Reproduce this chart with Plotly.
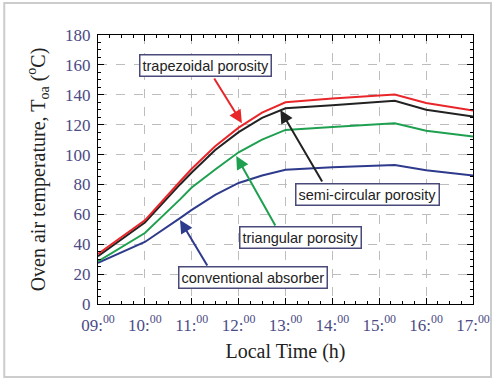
import plotly.graph_objects as go

hours = [9.0, 10.0, 10.75, 11.0, 11.5, 12.0, 12.5, 13.0, 14.0, 15.33, 16.0, 17.0]
trapezoidal = [33.5, 56.0, 82.0, 90.5, 105.5, 118.0, 128.0, 135.0, 137.5, 140.2, 134.5, 129.5]
semicircular = [32.0, 54.5, 80.0, 88.0, 103.0, 115.0, 124.5, 131.0, 133.0, 136.0, 130.0, 125.5]
triangular = [28.5, 47.5, 70.0, 78.0, 90.0, 101.5, 110.0, 116.5, 118.5, 121.0, 116.0, 112.0]
conventional = [27.5, 41.5, 57.5, 63.0, 73.0, 81.0, 86.0, 89.8, 91.5, 93.0, 89.5, 86.0]

tick_hours = [9, 10, 11, 12, 13, 14, 15, 16, 17]
tick_labels = ["09:<sup>00</sup>", "10:<sup>00</sup>", "11:<sup>00</sup>", "12:<sup>00</sup>",
               "13:<sup>00</sup>", "14:<sup>00</sup>", "15:<sup>00</sup>", "16:<sup>00</sup>",
               "17:<sup>00</sup>"]

series = [
    ("conventional absorber", conventional, "#2e3a8c"),
    ("triangular porosity", triangular, "#1fa050"),
    ("semi-circular porosity", semicircular, "#222222"),
    ("trapezoidal porosity", trapezoidal, "#e8262a"),
]

# label box centre, arrow tail, arrow head (data coords)
labels = {
    "trapezoidal porosity": ((11.29, 159.9), (11.46, 151.9), (12.07, 121.0)),
    "semi-circular porosity": ((14.75, 73.3), (13.80, 81.0), (12.89, 129.8)),
    "triangular porosity": ((13.32, 44.6), (12.80, 51.5), (11.95, 99.0)),
    "conventional absorber": ((12.30, 17.7), (11.35, 24.8), (10.75, 56.2)),
}

fig = go.Figure()
for name, vals, col in series:
    fig.add_trace(go.Scatter(x=hours, y=vals, mode="lines", name=name,
                             line=dict(color=col, width=2), showlegend=False))

for name, vals, col in series:
    (bx, by), (tx, ty), (hx, hy) = labels[name]
    fig.add_annotation(x=hx, y=hy, ax=tx, ay=ty, xref="x", yref="y", axref="x", ayref="y",
                       text="", showarrow=True, arrowhead=2, arrowsize=1.3, arrowwidth=2,
                       arrowcolor=col)
    fig.add_annotation(x=bx, y=by, xref="x", yref="y", text=name, showarrow=False,
                       font=dict(family="Liberation Sans, Arial", size=14.5, color="#222"),
                       bgcolor="white", bordercolor="#4a4a7a", borderwidth=1.5, borderpad=2)

fig.add_shape(type="rect", xref="paper", yref="paper", x0=-0.25, x1=1.048, y0=-0.271, y1=1.119,
              line=dict(color="#cccccc", width=2), layer="below")

axis_common = dict(showline=True, linecolor="black", linewidth=1.2, mirror="allticks",
                   ticks="inside", ticklen=6, tickcolor="black", automargin=False,
                   showgrid=True, gridcolor="#bdbdbd", griddash="dash", gridwidth=1,
                   zeroline=False,
                   tickfont=dict(family="Liberation Serif, Times New Roman", size=17, color="#4b4b85"))

fig.update_xaxes(range=[9, 17], tickvals=tick_hours, ticktext=tick_labels, ticklabelstandoff=5,
                 minor=dict(ticks="inside", ticklen=3, dtick=0.25, tickcolor="black", showgrid=False),
                 title=dict(text="Local Time (h)", standoff=10,
                            font=dict(family="Liberation Serif, Times New Roman", size=20, color="#222")),
                 **axis_common)
fig.update_yaxes(range=[0, 180], dtick=20, ticklabelstandoff=3,
                 minor=dict(ticks="inside", ticklen=3, dtick=5, tickcolor="black", showgrid=False),
                 title=dict(text="Oven air temperature, T<sub>oa</sub> (<sup>o</sup>C)", standoff=14,
                            font=dict(family="Liberation Serif, Times New Roman", size=20, color="#222")),
                 **axis_common)

fig.update_layout(width=495, height=379, margin=dict(l=98, r=22, t=35, b=75),
                  plot_bgcolor="white", paper_bgcolor="white")

fig.write_html("out.html", config={"displayModeBar": False},
               post_script="document.body.style.margin='0';document.body.style.overflow='hidden';")
